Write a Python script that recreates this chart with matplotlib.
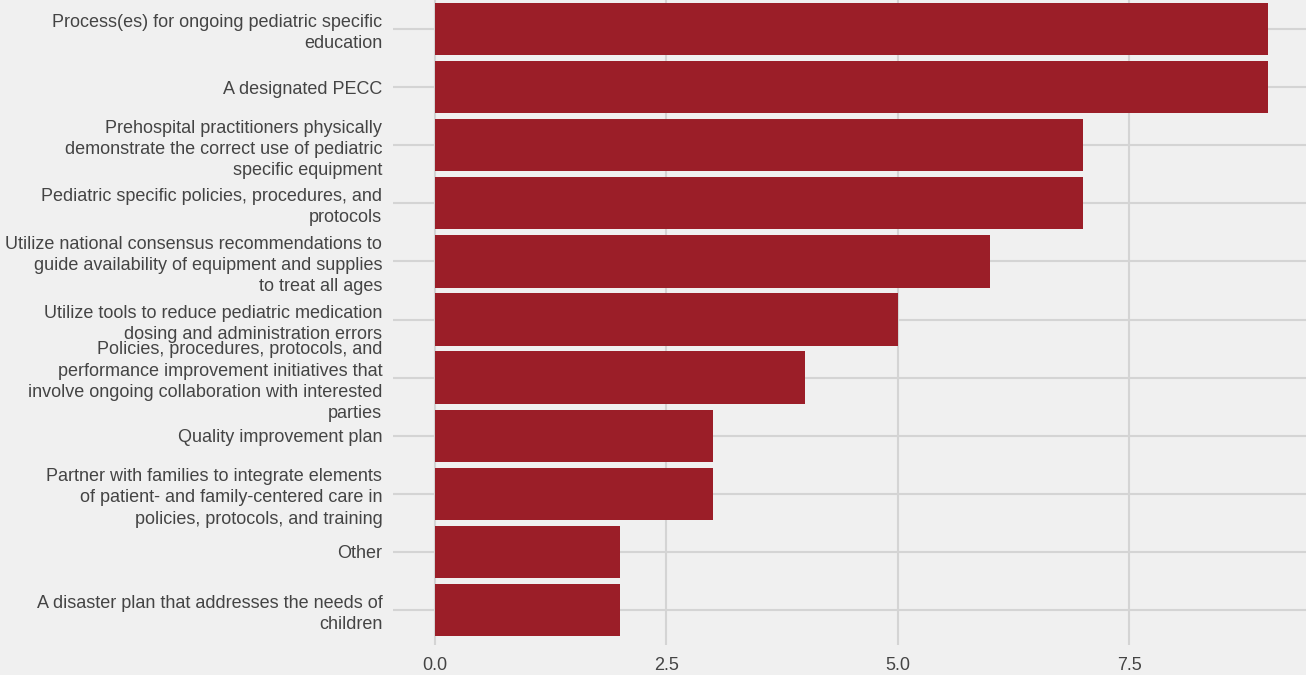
import matplotlib
matplotlib.use("Agg")
from matplotlib import pyplot as plt

# categories, top to bottom as shown
labels = [
    "Process(es) for ongoing pediatric specific\neducation",
    "A designated PECC",
    "Prehospital practitioners physically\ndemonstrate the correct use of pediatric\nspecific equipment",
    "Pediatric specific policies, procedures, and\nprotocols",
    "Utilize national consensus recommendations to\nguide availability of equipment and supplies\nto treat all ages",
    "Utilize tools to reduce pediatric medication\ndosing and administration errors",
    "Policies, procedures, protocols, and\nperformance improvement initiatives that\ninvolve ongoing collaboration with interested\nparties",
    "Quality improvement plan",
    "Partner with families to integrate elements\nof patient- and family-centered care in\npolicies, protocols, and training",
    "Other",
    "A disaster plan that addresses the needs of\nchildren",
]
counts = [9, 9, 7, 7, 6, 5, 4, 3, 3, 2, 2]
xticks = [0.0, 2.5, 5.0, 7.5]

bg = "#f0f0f0"
bar_color = "#9b1e28"
grid_color = "#d4d4d4"
text_color = "#444444"

plt.rcParams['font.family'] = ['Liberation Sans', 'DejaVu Sans']

fig = plt.figure(figsize=(13.06, 6.75), dpi=100, facecolor=bg)
W, H = 1306, 675
ax = fig.add_axes([393.4 / W, (H - 645) / H, (1309.5 - 393.4) / W, 651 / H])
ax.set_facecolor(bg)

ypos = list(range(len(labels)))
ax.barh(ypos, counts, height=0.9, color=bar_color, zorder=3)

ax.set_ylim(len(labels) - 1 + 0.6, -0.6)
ax.set_xlim(-0.45, 9.45)
ax.set_yticks(ypos)
ax.set_yticklabels(labels, fontsize=13, color=text_color, linespacing=1.32)
ax.set_xticks(xticks)
ax.set_xticklabels(["0.0", "2.5", "5.0", "7.5"], fontsize=13, color=text_color)

ax.grid(True, color=grid_color, linewidth=1.5, zorder=0)
ax.tick_params(length=0)
ax.tick_params(axis='y', pad=8)
ax.tick_params(axis='x', pad=9)
for s in ax.spines.values():
    s.set_visible(False)

fig.savefig("out.png", dpi=100, facecolor=bg)
